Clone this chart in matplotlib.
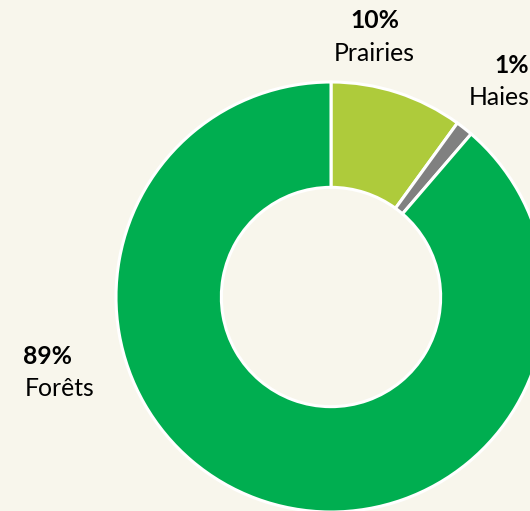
import matplotlib
matplotlib.use("Agg")
import matplotlib.pyplot as plt

categories = ["Prairies", "Haies", "Forêts"]
values = [10.0, 1.3, 88.7]
pct_labels = ["10%", "1%", "89%"]
colors = ["#AECB3B", "#808080", "#00AE50"]

W, H = 530, 511
fig = plt.figure(figsize=(W / 100, H / 100), dpi=100)
bg = "#F8F6EC"
fig.patch.set_facecolor(bg)
ax = fig.add_axes([0, 0, 1, 1])
ax.set_facecolor(bg)

cx, cy, R = 331, H - 297, 215
ax.pie(values, colors=colors, startangle=90, counterclock=False,
       center=(cx, cy), radius=R, frame=True,
       wedgeprops=dict(width=R * 0.49, edgecolor="white", linewidth=2.2))
ax.set_xlim(0, W)
ax.set_ylim(0, H)
ax.set_aspect("equal")
ax.axis("off")

font = "Lato"
fs = 17.8
label_pos = [((375, 20), (374, 53)), ((512, 65), (499, 97)), ((48, 356), (60, 388))]
for (pp, np_), pct, name in zip(label_pos, pct_labels, categories):
    ax.text(pp[0], H - pp[1], pct, ha="center", va="center", fontsize=fs,
            fontweight="bold", family=font, color="black")
    ax.text(np_[0], H - np_[1], name, ha="center", va="center", fontsize=fs,
            family=font, color="black")

fig.savefig("out.png", dpi=100, facecolor=bg)
